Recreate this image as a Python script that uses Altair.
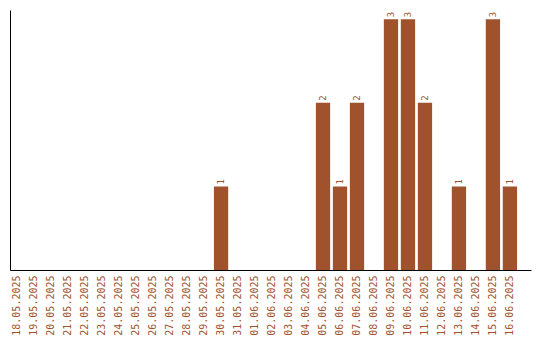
import altair as alt
import pandas as pd

dates = ["18.05.2025","19.05.2025","20.05.2025","21.05.2025","22.05.2025","23.05.2025",
         "24.05.2025","25.05.2025","26.05.2025","27.05.2025","28.05.2025","29.05.2025",
         "30.05.2025","31.05.2025","01.06.2025","02.06.2025","03.06.2025","04.06.2025",
         "05.06.2025","06.06.2025","07.06.2025","08.06.2025","09.06.2025","10.06.2025",
         "11.06.2025","12.06.2025","13.06.2025","14.06.2025","15.06.2025","16.06.2025"]
counts = [0,0,0,0,0,0,0,0,0,0,0,0,1,0,0,0,0,0,2,1,2,0,3,3,2,0,1,0,3,1]

df = pd.DataFrame({"date": dates, "count": counts})
color = "#A0522D"

x = alt.X("date:N", sort=dates, title=None,
          scale=alt.Scale(paddingInner=0.16, paddingOuter=0.41, align=0),
          axis=alt.Axis(labelAngle=270, labelColor=color, labelFont="DejaVu Sans Mono",
                        labelFontSize=10, ticks=False, domainColor="black", labelPadding=5,
                        labelAlign="right", labelBaseline="middle"))
y = alt.Y("count:Q", title=None, scale=alt.Scale(domain=[0, 3.11], nice=False),
          axis=alt.Axis(labels=False, ticks=False, grid=False, domainColor="black"))

bars = alt.Chart(df).mark_bar(color=color).encode(x=x, y=y)
text = alt.Chart(df).transform_filter("datum.count > 0").mark_text(
    angle=270, align="left", baseline="middle", dx=2, color=color,
    font="DejaVu Sans Mono", fontSize=9).encode(x=x, y=y, text="count:Q")

chart = (bars + text).properties(
    width=521, height=260,
    autosize=alt.AutoSizeParams(type="none"),
    padding={"left": 10, "top": 10, "right": 9, "bottom": 70},
).configure_view(stroke=None)

chart.save("out.html", embed_options={"renderer": "svg", "actions": False})
